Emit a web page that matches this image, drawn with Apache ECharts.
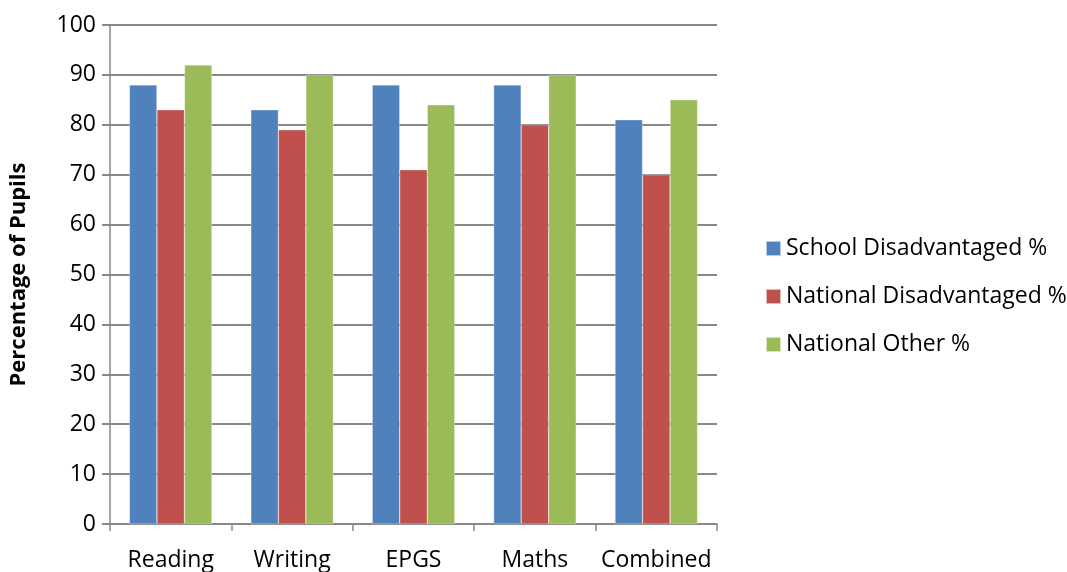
<!DOCTYPE html>
<html><head><meta charset="utf-8">
<script src="https://cdn.jsdelivr.net/npm/echarts@6/dist/echarts.min.js"></script>
<style>html,body{margin:0;padding:0;background:#fff}#c{width:1067px;height:572px}</style>
</head><body><div id="c"></div>
<script>
const categories = ["Reading", "Writing", "EPGS", "Maths", "Combined"];
const schoolDisadvantaged = [88, 83, 88, 88, 81];
const nationalDisadvantaged = [83, 79, 71, 80, 70];
const nationalOther = [92, 90, 84, 90, 85];
const seriesNames = ["School Disadvantaged %", "National Disadvantaged %", "National Other %"];
const font = "'Open Sans', 'Liberation Sans', sans-serif";
const chart = echarts.init(document.getElementById('c'));
const barStyle = c => ({color: c, borderColor: 'rgba(255,255,255,0.6)', borderWidth: 0.5});
chart.setOption({
  animation: false,
  textStyle: {fontFamily: font},
  grid: {left: 110, right: 350, top: 25, bottom: 47, containLabel: false},
  legend: {
    orient: 'vertical', left: 760, top: 232, itemGap: 25, icon: 'rect',
    itemWidth: 15, itemHeight: 15,
    textStyle: {fontFamily: font, fontSize: 23, color: '#000'},
    data: seriesNames
  },
  xAxis: {
    type: 'category', data: categories,
    axisLine: {lineStyle: {color: '#888', width: 1.5}},
    axisTick: {show: true, interval: 0, length: 7, lineStyle: {color: '#888', width: 1.5}},
    axisLabel: {interval: 0, fontFamily: font, fontSize: 23, color: '#000', margin: 25}
  },
  yAxis: {
    type: 'value', min: 0, max: 100, interval: 10,
    name: 'Percentage of Pupils', nameLocation: 'middle', nameGap: 80,
    nameTextStyle: {fontFamily: font, fontSize: 22, fontWeight: 'bold', color: '#000'},
    axisLine: {show: true, lineStyle: {color: '#888', width: 1.5}},
    axisTick: {show: true, length: 8, lineStyle: {color: '#888', width: 2}},
    axisLabel: {fontFamily: font, fontSize: 23, color: '#000', margin: 14},
    splitLine: {lineStyle: {color: '#888', width: 2}}
  },
  series: [
    {name: seriesNames[0], type: 'bar', data: schoolDisadvantaged, barGap: '0%', barCategoryGap: '32%', itemStyle: barStyle('#4F81BD')},
    {name: seriesNames[1], type: 'bar', data: nationalDisadvantaged, barGap: '0%', barCategoryGap: '32%', itemStyle: barStyle('#C0504D')},
    {name: seriesNames[2], type: 'bar', data: nationalOther, barGap: '0%', barCategoryGap: '32%', itemStyle: barStyle('#9BBB59')}
  ]
});
</script></body></html>
